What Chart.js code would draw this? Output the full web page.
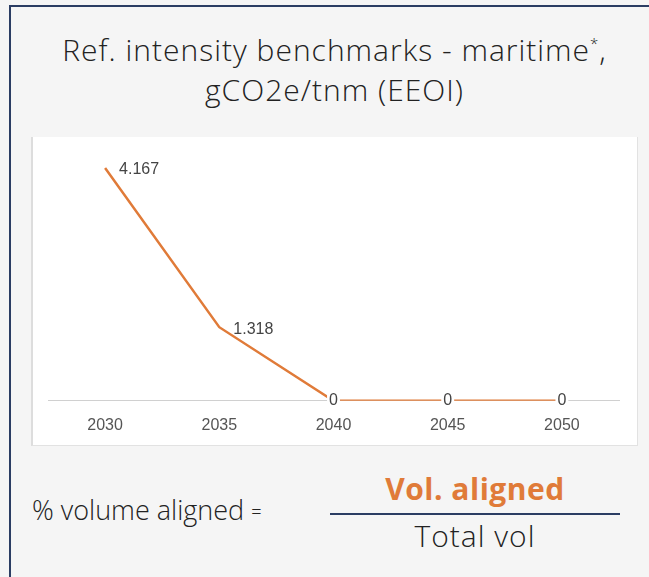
<!DOCTYPE html>
<html><head><meta charset="utf-8">
<script src="https://cdn.jsdelivr.net/npm/chart.js@4"></script>
<style>
html,body{margin:0;padding:0;background:#f5f5f5;}
#frame{position:absolute;left:0;top:0;width:649px;height:577px;overflow:hidden;background:#f5f5f5;}
#border{position:absolute;left:9px;top:5px;width:660px;height:600px;border-left:2px solid #2b3d63;border-top:2px solid #2b3d63;}
#title{position:absolute;left:20px;width:629px;top:23px;text-align:center;font-family:"Open Sans",sans-serif;font-size:30px;line-height:40px;color:#222;font-weight:300;letter-spacing:1px;}
#box{position:absolute;left:31px;top:137px;width:604px;height:308px;background:#fff;border-left:2px solid #ddd;border-right:1px solid #e2e2e2;border-bottom:1px solid #e2e2e2;}
#lhs{position:absolute;left:32px;top:491px;font-family:"Open Sans",sans-serif;font-size:27px;color:#222;font-weight:300;}
#eq{font-size:18px;vertical-align:2px;}
#num{position:absolute;left:330px;width:290px;top:468px;text-align:center;font-family:"Open Sans",sans-serif;font-size:30px;font-weight:700;color:#e07b39;letter-spacing:0.5px;}
#bar{position:absolute;left:330px;width:290px;top:513px;height:2px;background:#2b3d63;}
#den{position:absolute;left:330px;width:290px;top:515px;text-align:center;font-family:"Open Sans",sans-serif;font-size:30px;color:#222;font-weight:300;letter-spacing:1px;}
</style></head>
<body>
<div id="frame">
<div id="border"></div>
<div id="title">Ref. intensity benchmarks - maritime<sup style="font-size:15px;vertical-align:12px">*</sup>,<br>gCO2e/tnm (EEOI)</div>
<div id="box"><canvas id="c" width="604" height="308"></canvas></div>
<div id="lhs">% volume aligned <span id="eq">=</span></div>
<div id="num">Vol. aligned</div>
<div id="bar"></div>
<div id="den">Total vol</div>
</div>
<script>
const years = ['2030','2035','2040','2045','2050'];
const intensity = [4.167, 1.318, 0, 0, 0];
const valueLabels = ['4.167','1.318','0','0','0'];

const labelPlugin = {
  id:'vlabels',
  afterDatasetsDraw(chart){
    const ctx = chart.ctx;
    const meta = chart.getDatasetMeta(0);
    ctx.save();
    ctx.font = '16px "Liberation Sans", Arial, sans-serif';
    ctx.textBaseline = 'middle';
    meta.data.forEach((pt,i)=>{
      const txt = valueLabels[i];
      if (intensity[i] === 0){
        ctx.textAlign='center';
        const w = ctx.measureText(txt).width;
        ctx.fillStyle='#fff';
        ctx.fillRect(pt.x-w/2-2, pt.y-8, w+4, 16);
        ctx.fillStyle='#444';
        ctx.fillText(txt, pt.x, pt.y);
      } else {
        ctx.textAlign='left';
        ctx.fillStyle='#444';
        ctx.fillText(txt, pt.x+14, pt.y+2);
      }
    });
    ctx.restore();
  }
};

new Chart(document.getElementById('c'), {
  type:'line',
  data:{labels:years, datasets:[{data:intensity, borderColor:'#e07b39', borderWidth:2.5, pointRadius:0, tension:0, fill:false}]},
  options:{
    responsive:false, animation:false,
    layout:{padding:{left:15,right:18,top:3,bottom:3}},
    plugins:{legend:{display:false}, tooltip:{enabled:false}},
    scales:{
      x:{offset:true, grid:{display:false}, border:{display:true,color:'#d0d0d0',width:1},
         ticks:{color:'#555', font:{family:'"Liberation Sans", Arial, sans-serif', size:16}, padding:7}},
      y:{display:false, min:0, max:4.67}
    }
  },
  plugins:[labelPlugin]
});
</script>
</body></html>
